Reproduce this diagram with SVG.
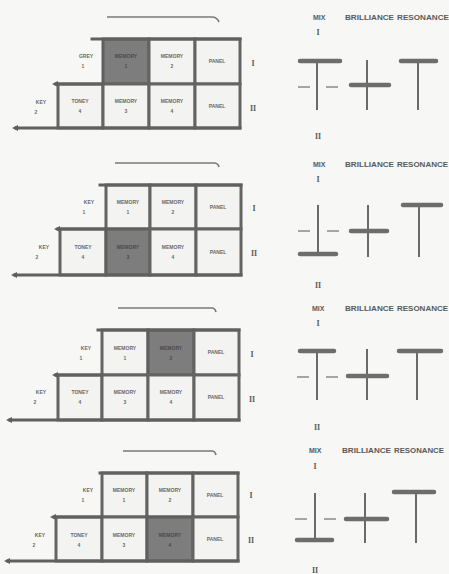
<svg xmlns="http://www.w3.org/2000/svg" width="449" height="574" viewBox="0 0 449 574">
<defs>
<style>
.bg{fill:#f7f7f5}
.cell{fill:#f3f3f1;stroke:#646464;stroke-width:3}
.sel{fill:#7d7d7d;stroke:#5f5f5f;stroke-width:3}
.ln{stroke:#606060;stroke-width:3;fill:none;stroke-linecap:square}
.thin{stroke:#7a7a7a;stroke-width:1.6;fill:none}
.t{font-family:"Liberation Sans",Arial,sans-serif;font-size:5px;font-weight:bold;fill:#6a6a6a;text-anchor:middle}
.ts{fill:#4a4a4a}
.lab{font-family:"Liberation Sans",Arial,sans-serif;font-size:7px;font-weight:bold;fill:#5a5a5a}
.rom{font-family:"Liberation Serif",serif;font-size:8px;font-weight:bold;fill:#5a5a5a;text-anchor:middle}
.rail{stroke:#6a6a6a;stroke-width:2;fill:none}
.knob{stroke:#6d6d6d;stroke-width:4.5;stroke-linecap:round;fill:none}
.dash{stroke:#8a8a8a;stroke-width:1.4;fill:none}
</style>
<marker id="ah" viewBox="0 0 6 6" refX="2" refY="3" markerWidth="6" markerHeight="6" markerUnits="userSpaceOnUse" orient="auto-start-reverse">
<path d="M0,0 L6,3 L0,6 z" fill="#5f5f5f"/>
</marker>
</defs>
<rect class="bg" x="0" y="0" width="449" height="574"/>

<g id="panel1">
  <g id="p1-grid">
    <g id="p1-key1"><text class="t" x="86" y="58">GREY</text><text class="t" x="83" y="68">1</text></g>
    <g id="p1-m1"><rect class="sel" x="103" y="39" width="46" height="45"/><text class="t ts" x="126" y="58">MEMORY</text><text class="t ts" x="126" y="68">1</text></g>
    <g id="p1-m2"><rect class="cell" x="149" y="39" width="46" height="45"/><text class="t" x="172" y="58">MEMORY</text><text class="t" x="172" y="68">2</text></g>
    <g id="p1-pan1"><rect class="cell" x="195" y="39" width="45" height="45"/><text class="t" x="217" y="63">PANEL</text></g>
    <g id="p1-key2"><text class="t" x="41" y="104">KEY</text><text class="t" x="36" y="114">2</text></g>
    <g id="p1-tone"><rect class="cell" x="58" y="84" width="45" height="44"/><text class="t" x="80" y="103">TONEY</text><text class="t" x="80" y="113">4</text></g>
    <g id="p1-m3"><rect class="cell" x="103" y="84" width="46" height="44"/><text class="t" x="126" y="103">MEMORY</text><text class="t" x="126" y="113">3</text></g>
    <g id="p1-m4"><rect class="cell" x="149" y="84" width="46" height="44"/><text class="t" x="172" y="103">MEMORY</text><text class="t" x="172" y="113">4</text></g>
    <g id="p1-pan2"><rect class="cell" x="195" y="84" width="45" height="44"/><text class="t" x="217" y="108">PANEL</text></g>
    <text class="rom" x="253" y="66">I</text>
    <text class="rom" x="253" y="111">II</text>
  </g>
  <g id="p1-connectors">
    <path class="ln" d="M92,39 H240"/>
    <path class="ln" d="M16,128 H240" marker-start="url(#ah)"/>
    <path class="ln" d="M56,84 H103" marker-start="url(#ah)"/>
    <path class="thin" d="M107,17 H212 Q217,17 219,22"/>
  </g>
  <g id="p1-sliders">
    <text class="lab" x="313" y="20">MIX</text>
    <text class="lab" x="345" y="20" textLength="49" lengthAdjust="spacingAndGlyphs">BRILLIANCE</text>
    <text class="lab" x="397" y="20" textLength="52" lengthAdjust="spacingAndGlyphs">RESONANCE</text>
    <text class="rom" x="318" y="35">I</text>
    <text class="rom" x="318" y="139">II</text>
    <path class="rail" d="M317,60 V110 M367,60 V110 M418,61 V110"/>
    <path class="dash" d="M298,87 H310 M326,87 H338"/>
    <path class="knob" d="M300,61 H340"/>
    <path class="knob" d="M351,85 H389"/>
    <path class="knob" d="M401,61 H436"/>
  </g>
</g>

<g id="panel2">
  <g id="p2-grid">
    <g id="p2-key1"><text class="t" x="89" y="204">KEY</text><text class="t" x="84" y="214">1</text></g>
    <g id="p2-m1"><rect class="cell" x="106" y="185" width="44" height="44"/><text class="t" x="128" y="204">MEMORY</text><text class="t" x="128" y="214">1</text></g>
    <g id="p2-m2"><rect class="cell" x="150" y="185" width="46" height="44"/><text class="t" x="173" y="204">MEMORY</text><text class="t" x="173" y="214">2</text></g>
    <g id="p2-pan1"><rect class="cell" x="196" y="185" width="45" height="44"/><text class="t" x="218" y="209">PANEL</text></g>
    <g id="p2-key2"><text class="t" x="44" y="249">KEY</text><text class="t" x="37" y="259">2</text></g>
    <g id="p2-tone"><rect class="cell" x="60" y="229" width="46" height="46"/><text class="t" x="83" y="249">TONEY</text><text class="t" x="83" y="259">4</text></g>
    <g id="p2-m3"><rect class="sel" x="106" y="229" width="44" height="46"/><text class="t ts" x="128" y="249">MEMORY</text><text class="t ts" x="128" y="259">3</text></g>
    <g id="p2-m4"><rect class="cell" x="150" y="229" width="46" height="46"/><text class="t" x="173" y="249">MEMORY</text><text class="t" x="173" y="259">4</text></g>
    <g id="p2-pan2"><rect class="cell" x="196" y="229" width="45" height="46"/><text class="t" x="218" y="254">PANEL</text></g>
    <text class="rom" x="254" y="211">I</text>
    <text class="rom" x="254" y="256">II</text>
  </g>
  <g id="p2-connectors">
    <path class="ln" d="M100,185 H241"/>
    <path class="ln" d="M15,275 H241" marker-start="url(#ah)"/>
    <path class="ln" d="M58,229 H106" marker-start="url(#ah)"/>
    <path class="thin" d="M115,163 H214 Q218,163 219,167"/>
  </g>
  <g id="p2-sliders">
    <text class="lab" x="313" y="167">MIX</text>
    <text class="lab" x="345" y="167" textLength="49" lengthAdjust="spacingAndGlyphs">BRILLIANCE</text>
    <text class="lab" x="397" y="167" textLength="51" lengthAdjust="spacingAndGlyphs">RESONANCE</text>
    <text class="rom" x="318" y="182">I</text>
    <text class="rom" x="318" y="288">II</text>
    <path class="rail" d="M318,205 V255 M368,205 V257 M419,205 V257"/>
    <path class="dash" d="M298,231 H310 M327,231 H339"/>
    <path class="knob" d="M300,254 H336"/>
    <path class="knob" d="M351,231 H387"/>
    <path class="knob" d="M403,205 H441"/>
  </g>
</g>

<g id="panel3">
  <g id="p3-grid">
    <g id="p3-key1"><text class="t" x="86" y="350">KEY</text><text class="t" x="81" y="360">1</text></g>
    <g id="p3-m1"><rect class="cell" x="102" y="330" width="46" height="45"/><text class="t" x="125" y="350">MEMORY</text><text class="t" x="125" y="360">1</text></g>
    <g id="p3-m2"><rect class="sel" x="148" y="330" width="46" height="45"/><text class="t ts" x="171" y="350">MEMORY</text><text class="t ts" x="171" y="360">2</text></g>
    <g id="p3-pan1"><rect class="cell" x="194" y="330" width="45" height="45"/><text class="t" x="216" y="354">PANEL</text></g>
    <g id="p3-key2"><text class="t" x="41" y="394">KEY</text><text class="t" x="35" y="404">2</text></g>
    <g id="p3-tone"><rect class="cell" x="58" y="375" width="44" height="45"/><text class="t" x="80" y="394">TONEY</text><text class="t" x="80" y="404">4</text></g>
    <g id="p3-m3"><rect class="cell" x="102" y="375" width="46" height="45"/><text class="t" x="125" y="394">MEMORY</text><text class="t" x="125" y="404">3</text></g>
    <g id="p3-m4"><rect class="cell" x="148" y="375" width="46" height="45"/><text class="t" x="171" y="394">MEMORY</text><text class="t" x="171" y="404">4</text></g>
    <g id="p3-pan2"><rect class="cell" x="194" y="375" width="45" height="45"/><text class="t" x="216" y="399">PANEL</text></g>
    <text class="rom" x="252" y="357">I</text>
    <text class="rom" x="252" y="402">II</text>
  </g>
  <g id="p3-connectors">
    <path class="ln" d="M98,330 H239"/>
    <path class="ln" d="M10,420 H239" marker-start="url(#ah)"/>
    <path class="ln" d="M56,375 H102" marker-start="url(#ah)"/>
    <path class="thin" d="M118,308 H212 Q215,308 216,312"/>
  </g>
  <g id="p3-sliders">
    <text class="lab" x="312" y="311">MIX</text>
    <text class="lab" x="345" y="311" textLength="49" lengthAdjust="spacingAndGlyphs">BRILLIANCE</text>
    <text class="lab" x="397" y="311" textLength="51" lengthAdjust="spacingAndGlyphs">RESONANCE</text>
    <text class="rom" x="318" y="326">I</text>
    <text class="rom" x="317" y="430">II</text>
    <path class="rail" d="M317,349 V400 M367,349 V400 M417,351 V400"/>
    <path class="dash" d="M297,377 H309 M326,377 H338"/>
    <path class="knob" d="M300,351 H334"/>
    <path class="knob" d="M348,376 H387"/>
    <path class="knob" d="M399,351 H441"/>
  </g>
</g>

<g id="panel4">
  <g id="p4-grid">
    <g id="p4-key1"><text class="t" x="88" y="492">KEY</text><text class="t" x="83" y="502">1</text></g>
    <g id="p4-m1"><rect class="cell" x="102" y="473" width="45" height="44"/><text class="t" x="124" y="492">MEMORY</text><text class="t" x="124" y="502">1</text></g>
    <g id="p4-m2"><rect class="cell" x="147" y="473" width="46" height="44"/><text class="t" x="170" y="492">MEMORY</text><text class="t" x="170" y="502">2</text></g>
    <g id="p4-pan1"><rect class="cell" x="193" y="473" width="45" height="44"/><text class="t" x="215" y="497">PANEL</text></g>
    <g id="p4-key2"><text class="t" x="40" y="537">KEY</text><text class="t" x="34" y="547">2</text></g>
    <g id="p4-tone"><rect class="cell" x="56" y="517" width="46" height="44"/><text class="t" x="79" y="537">TONEY</text><text class="t" x="79" y="547">4</text></g>
    <g id="p4-m3"><rect class="cell" x="102" y="517" width="45" height="44"/><text class="t" x="124" y="537">MEMORY</text><text class="t" x="124" y="547">3</text></g>
    <g id="p4-m4"><rect class="sel" x="147" y="517" width="46" height="44"/><text class="t ts" x="170" y="537">MEMORY</text><text class="t ts" x="170" y="547">4</text></g>
    <g id="p4-pan2"><rect class="cell" x="193" y="517" width="45" height="44"/><text class="t" x="215" y="541">PANEL</text></g>
    <text class="rom" x="251" y="498">I</text>
    <text class="rom" x="251" y="543">II</text>
  </g>
  <g id="p4-connectors">
    <path class="ln" d="M100,473 H238"/>
    <path class="ln" d="M8,561 H238" marker-start="url(#ah)"/>
    <path class="ln" d="M54,517 H102" marker-start="url(#ah)"/>
    <path class="thin" d="M123,451 H212 Q215,451 216,455"/>
  </g>
  <g id="p4-sliders">
    <text class="lab" x="309" y="453">MIX</text>
    <text class="lab" x="342" y="453" textLength="49" lengthAdjust="spacingAndGlyphs">BRILLIANCE</text>
    <text class="lab" x="394" y="453" textLength="50" lengthAdjust="spacingAndGlyphs">RESONANCE</text>
    <text class="rom" x="315" y="469">I</text>
    <text class="rom" x="315" y="573">II</text>
    <path class="rail" d="M315,493 V542 M365,493 V543 M416,492 V543"/>
    <path class="dash" d="M295,519 H307 M324,519 H336"/>
    <path class="knob" d="M297,540 H332"/>
    <path class="knob" d="M346,519 H387"/>
    <path class="knob" d="M394,492 H434"/>
  </g>
</g>
</svg>
